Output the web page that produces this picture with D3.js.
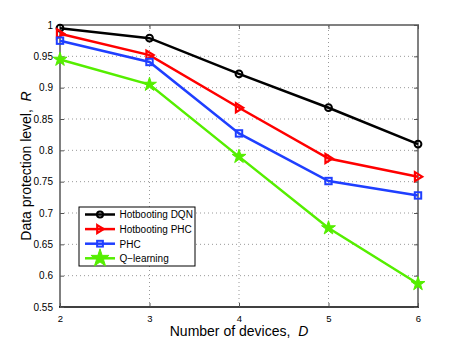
<!DOCTYPE html>
<html>
<head>
<meta charset="utf-8">
<script src="https://cdn.jsdelivr.net/npm/d3@7"></script>
<style>
body { margin:0; background:#fff; }
svg { display:block; font-family: "Liberation Sans", Arial, sans-serif; }
text { white-space: pre; }
</style>
</head>
<body>
<script>
const width = 461, height = 346;
const margin = {top: 25, right: 43, bottom: 39, left: 60};

// data
const devices = [2, 3, 4, 5, 6];
const dqn = [0.995, 0.979, 0.922, 0.868, 0.810];
const hotPhc = [0.986, 0.952, 0.868, 0.787, 0.758];
const phc = [0.975, 0.941, 0.827, 0.751, 0.728];
const qlearn = [0.945, 0.905, 0.790, 0.676, 0.587];
const yTicks = [0.55, 0.6, 0.65, 0.7, 0.75, 0.8, 0.85, 0.9, 0.95, 1];

const series = [
  {name: "Hotbooting DQN", values: dqn, color: "#000000", marker: "circle"},
  {name: "Hotbooting PHC", values: hotPhc, color: "#ff0000", marker: "triangle"},
  {name: "PHC", values: phc, color: "#1f3fff", marker: "square"},
  {name: "Q\u2212learning", values: qlearn, color: "#55ee00", marker: "star"}
];

const svg = d3.select("body").append("svg")
  .attr("width", width).attr("height", height);

const x = d3.scaleLinear().domain([2, 6]).range([margin.left, width - margin.right]);
const y = d3.scaleLinear().domain([0.55, 1]).range([height - margin.bottom, margin.top]);

const x0 = x.range()[0], x1 = x.range()[1];
const y0 = y.range()[0], y1 = y.range()[1];

// grid
const grid = svg.append("g").attr("stroke", "#999").attr("stroke-width", 1)
  .attr("stroke-dasharray", "1,3");
grid.selectAll(".gx").data(devices.slice(1, -1)).join("line")
  .attr("x1", d => x(d)).attr("x2", d => x(d)).attr("y1", y0).attr("y2", y1);
grid.selectAll(".gy").data(yTicks.slice(1, -1)).join("line")
  .attr("y1", d => y(d)).attr("y2", d => y(d)).attr("x1", x0).attr("x2", x1);

// frame
svg.append("path")
  .attr("d", `M${x0},${y0}V${y1}H${x1}V${y0}`)
  .attr("fill", "none").attr("stroke", "#808080").attr("stroke-width", 2);
svg.append("line").attr("x1", x0 - 1).attr("x2", x1 + 1).attr("y1", y0).attr("y2", y0)
  .attr("stroke", "#000").attr("stroke-width", 1.5);

// inner ticks via axes
const tickLen = 4;
svg.append("g").attr("transform", `translate(0,${y0})`)
  .call(d3.axisBottom(x).tickValues(devices).tickFormat(d3.format("d")).tickSizeInner(-tickLen).tickSizeOuter(0).tickPadding(8))
  .call(g => g.select(".domain").remove())
  .call(g => g.selectAll("line").attr("stroke", "#555"))
  .call(g => g.selectAll("text").attr("font-size", 9.5).attr("fill", "#000").attr("font-family", "Liberation Sans, Arial, sans-serif"));
svg.append("g").attr("transform", `translate(0,${y1})`)
  .call(d3.axisTop(x).tickValues(devices).tickSizeInner(-tickLen).tickSizeOuter(0).tickFormat(""))
  .call(g => g.select(".domain").remove())
  .call(g => g.selectAll("line").attr("stroke", "#555"));
svg.append("g").attr("transform", `translate(${x0},0)`)
  .call(d3.axisLeft(y).tickValues(yTicks).tickFormat(d => d3.format("")(+d.toFixed(2))).tickSizeInner(-tickLen).tickSizeOuter(0).tickPadding(7))
  .call(g => g.select(".domain").remove())
  .call(g => g.selectAll("line").attr("stroke", "#555"))
  .call(g => g.selectAll("text").attr("font-size", 10).attr("fill", "#000").attr("font-family", "Liberation Sans, Arial, sans-serif"));
svg.append("g").attr("transform", `translate(${x1},0)`)
  .call(d3.axisRight(y).tickValues(yTicks).tickSizeInner(-tickLen).tickSizeOuter(0).tickFormat(""))
  .call(g => g.select(".domain").remove())
  .call(g => g.selectAll("line").attr("stroke", "#555"));

// markers
function drawMarker(g, type, color, cx, cy, s) {
  if (type === "circle") {
    g.append("circle").attr("cx", cx).attr("cy", cy).attr("r", 3.4*s)
      .attr("fill", "none").attr("stroke", color).attr("stroke-width", 2);
  } else if (type === "triangle") {
    const r = 5.6*s;
    g.append("path").attr("d", `M${cx - r*0.55},${cy - r*0.8}L${cx + r*0.75},${cy}L${cx - r*0.55},${cy + r*0.8}Z`)
      .attr("fill", "none").attr("stroke", color).attr("stroke-width", 2.2).attr("stroke-linejoin", "miter");
  } else if (type === "square") {
    const r = 3.2*s;
    g.append("rect").attr("x", cx - r).attr("y", cy - r).attr("width", 2*r).attr("height", 2*r)
      .attr("fill", "none").attr("stroke", color).attr("stroke-width", 2);
  } else if (type === "star") {
    g.append("path")
      .attr("d", d3.symbol(d3.symbolStar, 60*s*s)())
      .attr("transform", `translate(${cx},${cy})`)
      .attr("fill", color).attr("stroke", color).attr("stroke-width", 1);
  }
}

const line = d3.line().x((d, i) => x(devices[i])).y(d => y(d));
series.forEach(s => {
  svg.append("path").datum(s.values).attr("d", line)
    .attr("fill", "none").attr("stroke", s.color).attr("stroke-width", 2.5);
  const mg = svg.append("g");
  s.values.forEach((v, i) => drawMarker(mg, s.marker, s.color, x(devices[i]), y(v), 1));
});

// legend
const lg = svg.append("g");
lg.append("rect").attr("x", 79).attr("y", 207).attr("width", 116).attr("height", 59)
  .attr("fill", "#fff").attr("stroke", "#000").attr("stroke-width", 1);
series.forEach((s, i) => {
  const ly = 214.5 + i * 14.6;
  lg.append("line").attr("x1", 85).attr("x2", 115).attr("y1", ly).attr("y2", ly)
    .attr("stroke", s.color).attr("stroke-width", 2.5);
  drawMarker(lg, s.marker, s.color, 100, ly, s.marker === "star" ? 1.3 : 0.9);
  lg.append("text").attr("x", 119.5).attr("y", ly + 3.8).attr("font-size", 10).text(s.name);
});

// axis titles
svg.append("text").attr("x", x(4)).attr("y", 336).attr("text-anchor", "middle")
  .attr("font-size", 14)
  .call(t => { t.append("tspan").text("Number of devices,  "); t.append("tspan").attr("font-style", "italic").text("D"); });
svg.append("text").attr("transform", `translate(31,${(y0 + y1) / 2}) rotate(-90)`).attr("text-anchor", "middle")
  .attr("font-size", 14)
  .call(t => { t.append("tspan").text("Data protection level,  "); t.append("tspan").attr("font-style", "italic").text("R"); });
</script>
</body>
</html>
